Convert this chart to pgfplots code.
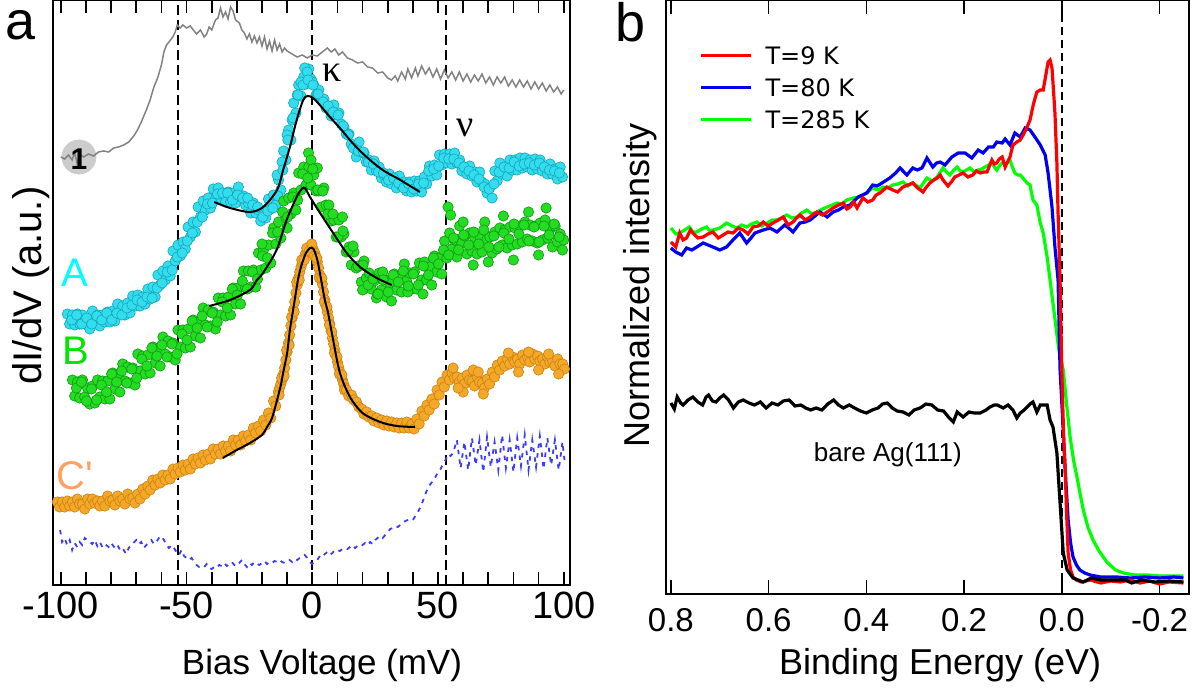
\documentclass[border=0pt]{standalone}
\usepackage{fontspec}
\setmainfont{Liberation Sans}
\newfontfamily\legfont{DejaVu Sans}
\newfontfamily\greekfont{Liberation Serif}
\usepackage{pgfplots}
\pgfplotsset{compat=1.18}

\definecolor{cyanfill}{RGB}{51,221,238}
\definecolor{cyanedge}{RGB}{20,165,185}
\definecolor{greenfill}{RGB}{34,221,34}
\definecolor{greenedge}{RGB}{20,150,20}
\definecolor{orangefill}{RGB}{245,168,40}
\definecolor{orangeedge}{RGB}{200,130,20}
\definecolor{labA}{RGB}{0,255,255}
\definecolor{labB}{RGB}{0,230,0}
\definecolor{labC}{RGB}{255,160,100}
\definecolor{tracegray}{RGB}{130,130,130}
\definecolor{dashblue}{RGB}{60,60,255}
\definecolor{arpesred}{RGB}{255,0,0}
\definecolor{arpesblue}{RGB}{0,0,240}
\definecolor{arpesgreen}{RGB}{0,255,0}

\pgfplotsset{
  dots/.style 2 args={only marks, mark=*, mark size=2.6pt,
    mark options={fill=#1, draw=#2, line width=0.3pt}},
  fit/.style={black, line width=1pt, smooth, no marks},
}

\begin{document}
\begin{tikzpicture}
\path[use as bounding box] (0,0) rectangle (602pt,348pt);

% ---------------- panel a ----------------
\begin{axis}[
  at={(26.65pt,55.5pt)}, anchor=south west,
  scale only axis, width=258.35pt, height=292.5pt,
  xmin=-103, xmax=102.5, ymin=15, ymax=600,
  clip=false, clip mode=individual,
  axis line style={line width=1pt},
  xtick={-100,-50,0,50,100},
  xticklabels={-100,-50,0,50,100},
  minor xtick={-90,-80,-70,-60,-40,-30,-20,-10,10,20,30,40,60,70,80,90},
  ytick=\empty,
  tick align=inside,
  major tick length=6.5pt, minor tick length=6.5pt,
  every tick/.style={black, line width=0.8pt},
  xticklabel style={font=\fontsize{19}{22}\selectfont},
  every axis x label/.style={at={(axis description cs:0.52,-0.137)}, anchor=center,
    font=\fontsize{17.5}{20}\selectfont},
  every axis y label/.style={at={(axis description cs:-0.043,0.512)}, anchor=center,
    rotate=90, font=\fontsize{20}{24}\selectfont},
  xlabel={Bias Voltage (mV)},
  ylabel={dI/dV (a.u.)},
]
% guide lines
\addplot[black, line width=0.85pt, dash pattern=on 5pt off 2.5pt] coordinates {(-53.5,15) (-53.5,600)};
\addplot[black, line width=0.85pt, dash pattern=on 5pt off 2.5pt] coordinates {(0,15) (0,600)};
\addplot[black, line width=0.85pt, dash pattern=on 5pt off 2.5pt] coordinates {(53.1,15) (53.1,600)};

% tip marker
\addplot[only marks, mark=*, mark size=8.5pt, mark options={fill=black!20, draw=black!20}] coordinates {(-92.8,443)};

% gray reference trace
\addplot[tracegray, line width=0.75pt] coordinates {
(-100,443) (-98.5,441) (-97,445) (-95.5,440) (-94.5,448) (-93.5,436) (-92.5,446) (-91,443) (-89,446) (-87,444)
(-85,448) (-83,449) (-81,448) (-79,452) (-77,453) (-75,455) (-73,458) (-71,464) (-69.5,470) (-68,478)
(-66,490) (-64.5,500) (-63,513) (-61.5,522) (-60,535) (-59,548) (-58,555) (-57,558) (-55.5,563) (-54.5,568)
(-53.7,575) (-52.5,572) (-51.5,575) (-50,572) (-48.5,574) (-47,569) (-46,566) (-44.5,570) (-43,563) (-42,566)
(-41,573) (-40,570) (-38.5,580) (-37.5,582) (-36.5,592) (-35.5,583) (-34.5,588) (-33.5,581) (-32.5,593) (-31.5,589)
(-30.5,580) (-29,577) (-28,570) (-27,567) (-26,561) (-25,566) (-24,558) (-23,564) (-22,557) (-21,563)
(-20,554) (-19,563) (-18,551) (-17,559) (-16,549) (-15,560) (-14,550) (-13,556) (-12,548) (-11,552)
(-10,549) (-8,546) (-6,543) (-4,545) (-2,542) (0,545) (2,544) (4,548) (6,552) (7.5,548)
(9,551) (10.5,545) (12,548) (14,542) (16,540) (18,537) (20,538) (22,533) (24,532) (26,527)
(28,528) (30,522) (31.5,520) (33,524) (34,519) (35.5,528) (37,521) (38,531) (39.5,522) (41,532)
(42,524) (43.5,534) (45,526) (46.5,532) (48,523) (49.5,531) (51,521) (52.5,530) (54,522) (55.5,528)
(57,520) (58.5,528) (60,519) (61.5,526) (63,518) (64.5,525) (66,519) (67.5,526) (69,517) (70.5,523)
(72,515) (73.5,523) (75,517) (76.5,523) (78,514) (79.5,520) (81,513) (82.5,520) (84,513) (85.5,519)
(87,511) (88.5,518) (90,511) (91.5,517) (93,509) (94.5,515) (96,508) (97.5,513) (99,506) (100,510)
};

% A (cyan)
\addplot[dots={cyanfill}{cyanedge}] coordinates {
(-97.4,286) (-96.5,276) (-95.4,285) (-94.5,275) (-93.4,286) (-92.5,276) (-91.4,285) (-90.5,276)
(-89.4,281) (-88.5,271) (-87.4,289) (-86.5,279) (-85.4,285) (-84.5,274) (-83.4,285) (-82.5,278)
(-81.4,288) (-80.5,278) (-79.4,289) (-78.5,279) (-77.4,296) (-76.5,286) (-75.4,294) (-74.5,285)
(-73.4,297) (-72.5,287) (-71.4,304) (-70.5,294) (-69.4,305) (-68.5,294) (-67.4,303) (-66.5,296)
(-65.4,311) (-64.5,301) (-63.4,313) (-62.5,303) (-61.4,325) (-60.5,315) (-59.4,329) (-58.5,320)
(-57.4,334) (-56.5,324) (-55.4,349) (-54.5,339) (-53.4,355) (-52.5,344) (-51.4,358) (-50.5,351)
(-49.4,373) (-48.5,363) (-47.4,378) (-46.5,368) (-45.4,393) (-44.5,383) (-43.4,399) (-42.5,390)
(-41.4,402) (-40.5,392) (-39.4,411) (-38.5,401) (-37.4,412) (-36.5,401) (-35.4,405) (-34.5,398)
(-33.4,408) (-32.5,398) (-31.4,407) (-30.5,397) (-29.4,413) (-28.5,403) (-27.4,404) (-26.5,395)
(-25.4,397) (-24.5,387) (-23.4,397) (-22.5,387) (-21.4,390) (-20.5,379) (-19.4,389) (-18.5,382)
(-17.4,401) (-16.5,391) (-15.4,405) (-14.5,395) (-13.4,420) (-12.5,410) (-11.4,449) (-10.5,440)
(-9.4,470) (-8.5,460) (-7.4,497) (-6.5,487) (-5.4,515) (-4.5,504) (-3.4,523) (-2.5,516)
(-1.4,531) (-0.5,521) (0.6,515) (1.5,505) (2.6,510) (3.5,500) (4.6,501) (5.5,492)
(6.6,494) (7.5,484) (8.6,495) (9.5,485) (10.6,487) (11.5,476) (12.6,473) (13.5,466)
(14.6,466) (15.5,456) (16.6,453) (17.5,443) (18.6,458) (19.5,448) (20.6,447) (21.5,438)
(22.6,440) (23.5,430) (24.6,439) (25.5,429) (26.6,433) (27.5,422) (28.6,425) (29.5,418)
(30.6,426) (31.5,416) (32.6,422) (33.5,412) (34.6,424) (35.5,414) (36.6,418) (37.5,409)
(38.6,418) (39.5,408) (40.6,419) (41.5,409) (42.6,419) (43.5,408) (44.6,423) (45.5,416)
(46.6,434) (47.5,424) (48.6,435) (49.5,425) (50.6,445) (51.5,435) (52.6,446) (53.5,437)
(54.6,446) (55.5,436) (56.6,447) (57.5,437) (58.6,440) (59.5,429) (60.6,433) (61.5,426)
(62.6,434) (63.5,424) (64.6,428) (65.5,418) (66.6,428) (67.5,418) (68.6,416) (69.5,407)
(70.6,412) (71.5,402) (72.6,429) (73.5,419) (74.6,437) (75.5,426) (76.6,431) (77.5,424)
(78.6,440) (79.5,430) (80.6,440) (81.5,430) (82.6,442) (83.5,432) (84.6,442) (85.5,433)
(86.6,440) (87.5,430) (88.6,441) (89.5,431) (90.6,440) (91.5,429) (92.6,433) (93.5,426)
(94.6,436) (95.5,426) (96.6,431) (97.5,421) (98.6,433) (99.5,423)
(-3,532) (-2,528) (-4.5,518) (-6,505) (-8,480) (-10,465) (-12,438) (-14,425) (0,518) (2,505)
(-95.7,280) (-93.7,285) (-91.7,276) (-89.7,282) (-87.7,276) (-85.7,284) (-83.7,280) (-81.7,287)
(-79.7,280) (-77.7,287) (-75.7,285) (-73.7,292) (-71.7,295) (-69.7,300) (-67.7,298) (-65.7,303)
(-63.7,302) (-61.7,312) (-59.7,317) (-57.7,328) (-55.7,330) (-53.7,343) (-51.7,347) (-49.7,359)
(-47.7,367) (-45.7,378) (-43.7,383) (-41.7,396) (-39.7,397) (-37.7,406) (-35.7,407) (-33.7,407)
(-31.7,400) (-29.7,405) (-27.7,402) (-25.7,402) (-23.7,395) (-21.7,393) (-19.7,383) (-17.7,389)
(-15.7,392) (-13.7,404) (-11.7,430) (-9.7,460) (-7.7,482) (-5.7,505) (-3.7,515) (-1.7,520)
(0.3,515) (2.3,506) (4.3,498) (6.3,494) (8.3,488) (10.3,485) (12.3,474) (14.3,465)
(16.3,452) (18.3,449) (20.3,448) (22.3,438) (24.3,436) (26.3,428) (28.3,427) (30.3,420)
(32.3,422) (34.3,417) (36.3,412) (38.3,416) (40.3,411) (42.3,416) (44.3,417) (46.3,429)
(48.3,431) (50.3,434) (52.3,442) (54.3,441) (56.3,441) (58.3,437) (60.3,433) (62.3,429)
(64.3,425) (66.3,421) (68.3,413) (70.3,411) (72.3,416) (74.3,428) (76.3,433) (78.3,432)
(80.3,438) (82.3,434) (84.3,436) (86.3,437) (88.3,435) (90.3,437) (92.3,433) (94.3,430)
(96.3,429) (98.3,427)
};
\addplot[fit] coordinates {
(-39,398) (-32.7,392) (-24.8,388) (-19.5,393) (-14,410) (-11.6,430) (-8.9,453) (-6.2,480)
(-3.6,500) (-1.8,504) (0.3,502) (3,495) (7,483) (11,472) (16,457) (21.6,443) (28,430) (35,420) (42.8,408)
};

% B (green)
\addplot[dots={greenfill}{greenedge}] coordinates {
(-95.4,220) (-94.5,204) (-93.4,218) (-92.5,202) (-91.4,220) (-90.5,203) (-89.4,212) (-88.5,196)
(-87.4,214) (-86.5,197) (-85.4,220) (-84.5,203) (-83.4,219) (-82.5,201) (-81.4,219) (-80.5,201)
(-79.4,227) (-78.5,211) (-77.4,224) (-76.5,208) (-75.4,236) (-74.5,219) (-73.4,233) (-72.5,217)
(-71.4,232) (-70.5,215) (-69.4,246) (-68.5,229) (-67.4,244) (-66.5,226) (-65.4,245) (-64.5,227)
(-63.4,253) (-62.5,237) (-61.4,250) (-60.5,234) (-59.4,263) (-58.5,246) (-57.4,259) (-56.5,243)
(-55.4,257) (-54.5,240) (-53.4,270) (-52.5,253) (-51.4,270) (-50.5,252) (-49.4,271) (-48.5,253)
(-47.4,280) (-46.5,264) (-45.4,278) (-44.5,262) (-43.4,292) (-42.5,275) (-41.4,290) (-40.5,274)
(-39.4,288) (-38.5,271) (-37.4,302) (-36.5,285) (-35.4,302) (-34.5,284) (-33.4,303) (-32.5,285)
(-31.4,312) (-30.5,296) (-29.4,312) (-28.5,296) (-27.4,329) (-26.5,312) (-25.4,329) (-24.5,313)
(-23.4,330) (-22.5,313) (-21.4,347) (-20.5,330) (-19.4,350) (-18.5,332) (-17.4,355) (-16.5,337)
(-15.4,372) (-14.5,356) (-13.4,378) (-12.5,362) (-11.4,399) (-10.5,382) (-9.4,402) (-8.5,386)
(-7.4,407) (-6.5,390) (-5.4,427) (-4.5,410) (-3.4,433) (-2.5,415) (-1.4,433) (-0.5,415)
(0.6,425) (1.5,409) (2.6,409) (3.5,393) (4.6,412) (5.5,395) (6.6,395) (7.5,379)
(8.6,380) (9.5,363) (10.6,380) (11.5,363) (12.6,366) (13.5,348) (14.6,353) (15.5,335)
(16.6,348) (17.5,332) (18.6,334) (19.5,318) (20.6,339) (21.5,322) (22.6,327) (23.5,311)
(24.6,319) (25.5,302) (26.6,327) (27.5,310) (28.6,321) (29.5,303) (30.6,317) (31.5,299)
(32.6,326) (33.5,310) (34.6,324) (35.5,308) (36.6,336) (37.5,319) (38.6,327) (39.5,311)
(40.6,328) (41.5,311) (42.6,337) (43.5,320) (44.6,338) (45.5,320) (46.6,333) (47.5,315)
(48.6,344) (49.5,328) (50.6,342) (51.5,326) (52.6,359) (53.5,342) (54.6,367) (55.5,351)
(56.6,360) (57.5,343) (58.6,374) (59.5,357) (60.6,364) (61.5,346) (62.6,367) (63.5,349)
(64.6,362) (65.5,346) (66.6,364) (67.5,348) (68.6,378) (69.5,361) (70.6,363) (71.5,347)
(72.6,368) (73.5,351) (74.6,372) (75.5,355) (76.6,370) (77.5,352) (78.6,373) (79.5,355)
(80.6,372) (81.5,356) (82.6,374) (83.5,358) (84.6,378) (85.5,361) (86.6,375) (87.5,359)
(88.6,374) (89.5,357) (90.6,377) (91.5,360) (92.6,380) (93.5,362) (94.6,371) (95.5,353)
(96.6,374) (97.5,358) (98.6,366) (99.5,350)
(-1.5,447) (-0.5,440) (2,432) (12,383) (20,310) (26,306) (38,308) (44,306) (54,393) (55,385)
(60,378) (64,335) (70,338) (76,384) (80,340) (86,388) (90,345) (93,392) (100,360) (-20,356)
(-10,372) (28,328)
(-93.8,212) (-91.8,218) (-89.8,199) (-87.8,211) (-85.8,200) (-83.8,215) (-81.8,208) (-79.8,226)
(-77.8,218) (-75.8,229) (-73.8,217) (-71.8,231) (-69.8,222) (-67.8,241) (-65.8,234) (-63.8,252)
(-61.8,244) (-59.8,255) (-57.8,243) (-55.8,256) (-53.8,246) (-51.8,266) (-49.8,260) (-47.8,279)
(-45.8,272) (-43.8,284) (-41.8,273) (-39.8,287) (-37.8,278) (-35.8,298) (-33.8,292) (-31.8,311)
(-29.8,305) (-27.8,319) (-25.8,311) (-23.8,328) (-21.8,321) (-19.8,344) (-17.8,342) (-15.8,367)
(-13.8,368) (-11.8,388) (-9.8,383) (-7.8,403) (-5.8,400) (-3.8,426) (-1.8,422) (0.2,431)
(2.2,410) (4.2,409) (6.2,386) (8.2,386) (10.2,363) (12.2,369) (14.2,349) (16.2,354)
(18.2,334) (20.2,335) (22.2,315) (24.2,321) (26.2,306) (28.2,320) (30.2,308) (32.2,325)
(34.2,318) (36.2,329) (38.2,314) (40.2,326) (42.2,315) (44.2,334) (46.2,325) (48.2,342)
(50.2,336) (52.2,350) (54.2,345) (56.2,362) (58.2,350) (60.2,365) (62.2,355) (64.2,368)
(66.2,356) (68.2,370) (70.2,353) (72.2,364) (74.2,353) (76.2,367) (78.2,361) (80.2,376)
(82.2,366) (84.2,375) (86.2,359) (88.2,373) (90.2,358) (92.2,374) (94.2,365) (96.2,376)
(98.2,363)
};
\addplot[fit] coordinates {
(-41,294) (-32.7,300) (-24.8,310) (-22,320) (-19.6,327) (-14.2,350) (-10.2,380) (-6.2,403)
(-4.2,411) (-2.9,412) (-0.9,403) (3.1,387) (8.3,367) (13.7,347) (19,333) (25.6,322) (31.6,315)
};

% C' (orange)
\addplot[dots={orangefill}{orangeedge}] coordinates {
(-101.4,98) (-100.5,93) (-99.4,98) (-98.5,93) (-97.4,99) (-96.5,94) (-95.4,98) (-94.5,93)
(-93.4,101) (-92.5,96) (-91.4,96) (-90.5,91) (-89.4,101) (-88.5,96) (-87.4,101) (-86.5,97)
(-85.4,99) (-84.5,94) (-83.4,99) (-82.5,94) (-81.4,104) (-80.5,99) (-79.4,100) (-78.5,95)
(-77.4,104) (-76.5,99) (-75.4,101) (-74.5,96) (-73.4,106) (-72.5,101) (-71.4,102) (-70.5,97)
(-69.4,106) (-68.5,101) (-67.4,111) (-66.5,106) (-65.4,114) (-64.5,110) (-63.4,120) (-62.5,115)
(-61.4,121) (-60.5,117) (-59.4,125) (-58.5,120) (-57.4,125) (-56.5,121) (-55.4,131) (-54.5,126)
(-53.4,132) (-52.5,128) (-51.4,135) (-50.5,130) (-49.4,136) (-48.5,131) (-47.4,141) (-46.5,136)
(-45.4,142) (-44.5,137) (-43.4,145) (-42.5,140) (-41.4,146) (-40.5,141) (-39.4,151) (-38.5,146)
(-37.4,151) (-36.5,146) (-35.4,154) (-34.5,149) (-33.4,154) (-32.5,149) (-31.4,160) (-30.5,155)
(-29.4,160) (-28.5,155) (-27.4,164) (-26.5,159) (-25.4,165) (-24.5,160) (-23.4,172) (-22.5,167)
(-21.4,174) (-20.5,169) (-19.4,180) (-18.5,175) (-17.4,187) (-16.5,182) (-15.4,199) (-14.5,194)
(-13.5,208) (-13,212) (-12.5,216) (-12,220) (-11.5,226) (-11,232) (-10.5,240) (-10,248)
(-9.5,257) (-9,265) (-8.5,274) (-8,282) (-7.5,290) (-7,298) (-6.5,307) (-6,315)
(-5.5,322) (-5,328) (-4.5,333) (-4,337) (-3.5,341) (-3,344) (-2.5,347) (-2,349)
(-1.5,351) (-1,352) (-0.5,353) (0,352) (0.5,350) (1,347) (1.5,343) (2,338)
(2.5,332) (3,325) (3.5,321) (4,316) (4.5,308) (5,300) (5.5,294) (6,288)
(6.5,282) (7,276) (7.5,269) (8,262) (8.5,256) (9,250) (9.5,244) (10,238)
(10.5,233) (11,228) (11.5,224) (12,220) (12.5,216) (13,212)
(-13.2,205) (-12.2,222) (-11.2,224) (-10.2,250) (-9.2,255) (-8.2,283) (-7.2,288) (-6.2,318)
(-5.2,320) (-4.2,340) (-3.2,340) (-2.2,352) (-1.2,349) (-0.2,356) (0.8,344) (1.8,342)
(2.8,322) (3.8,322) (4.8,298) (5.8,293) (6.8,275) (7.8,268) (8.8,247) (9.8,243)
(10.8,226) (11.8,225) (12.8,210)
(13.6,210) (14.5,204) (15.6,205) (16.5,200) (17.6,198) (18.5,193) (19.6,191) (20.5,186)
(21.6,188) (22.5,183) (23.6,184) (24.5,179) (25.6,182) (26.5,177) (27.6,180) (28.5,175)
(29.6,179) (30.5,174) (31.6,178) (32.5,173) (33.6,177) (34.5,172) (35.6,177) (36.5,172)
(37.6,178) (38.5,172) (39.6,176) (40.5,171) (41.6,181) (42.5,176) (43.6,189) (44.5,184)
(45.6,195) (46.5,190) (47.6,201) (48.5,196) (49.6,210) (50.5,205) (51.6,218) (52.5,213)
(53.6,225) (54.5,220) (55.6,227) (56.5,222) (57.6,223) (58.5,218) (59.6,222) (60.5,216)
(61.6,225) (62.5,220) (63.6,219) (64.5,214) (65.6,223) (66.5,218) (67.6,217) (68.5,212)
(69.6,221) (70.5,216) (71.6,228) (72.5,223) (73.6,235) (74.5,230) (75.6,239) (76.5,234)
(77.6,241) (78.5,236) (79.6,243) (80.5,238) (81.6,241) (82.5,236) (83.6,245) (84.5,240)
(85.6,243) (86.5,238) (87.6,246) (88.5,241) (89.6,244) (90.5,239) (91.6,241) (92.5,236)
(93.6,243) (94.5,238) (95.6,239) (96.5,234) (97.6,241) (98.5,236) (99.6,236) (100.3,231)
(56,232) (60,208) (64,230) (68,206) (58,212) (66,228)
(78,247) (82,228) (86,248) (90,230) (94,246) (98,226)
};
\addplot[fit] coordinates {
(-35.6,142) (-30,150) (-24.8,157) (-20,165) (-18,173) (-16,182) (-14,200) (-12.5,215)
(-11.6,227) (-10,247) (-8.9,270) (-7.5,292) (-5.7,320) (-4.5,333) (-3.6,340) (-2.5,347)
(-0.9,352) (0.5,351) (2,340) (3.4,322) (5,300) (6.3,287) (8.3,260) (11,227) (15,203)
(20,187) (27,178) (33.6,174) (40.8,173)
};

% reference (blue dashed)
\addplot[dashblue, line width=0.9pt, dash pattern=on 2.2pt off 2.6pt] coordinates {
(-100.3,70) (-99.5,58) (-98.5,62) (-97.5,55) (-96.5,60) (-95.5,50) (-94.5,57) (-93.5,53) (-92.5,58) (-91.5,55)
(-90.5,62) (-89.5,60) (-88.5,58) (-87.5,56) (-86.5,60) (-85.5,54) (-84.5,58) (-83.5,53) (-82.5,56) (-81,53)
(-80,57) (-78.5,52) (-77.5,55) (-76,48) (-75,50) (-74,46) (-73,52) (-71.5,56) (-70,60) (-69,56)
(-68,58) (-67,52) (-66,55) (-65,58) (-64,60) (-63,56) (-62,58) (-61,62) (-60,64) (-59,60)
(-58,55) (-57,52) (-56,55) (-55,52) (-54,48) (-53,45) (-52,50) (-51,44) (-50,42) (-49,40)
(-48,42) (-47,38) (-46,35) (-45,33) (-44,34) (-43,33) (-42,36) (-41,32) (-40,31) (-39,33)
(-38,32) (-37,35) (-36,34) (-35,37) (-34,34) (-33,36) (-32,38) (-31,35) (-30,34) (-29,37)
(-28,40) (-27,36) (-26,33) (-25,37) (-24,35) (-23,38) (-22,36) (-21,35) (-20,37) (-19,39)
(-18,36) (-17,38) (-16,37) (-15,39) (-14,38) (-13,40) (-12,38) (-11,37) (-10,39) (-9,40)
(-8,38) (-7,41) (-6,40) (-5,42) (-4,43) (-3,45) (-2,42) (-1,38) (0,36) (1,38)
(2,40) (3,44) (4,43) (5,46) (6,48) (7,45) (8,47) (9,50) (10,50) (11,49)
(12,51) (13,52) (14,51) (15,53) (16,55) (17,52) (18,54) (19,53) (20,55) (21,57)
(22,55) (23,58) (24,56) (25,60) (26,62) (27,64) (28,62) (29,65) (30,68) (31,71)
(32,72) (33,74) (34,73) (35,75) (36,77) (37,79) (38,80) (39,81) (40,80) (41,84)
(42,88) (43,93) (44,99) (45,106) (46,112) (47,116) (48,119) (49,123) (50,128) (51,131)
(52,136) (53,140) (54,146) (55,144) (56,147) (57.5,160) (59,132) (60.5,158) (62,130) (63.5,162)
(65,135) (66.5,160) (68,128) (69.5,163) (71,133) (72.5,158) (74,130) (75.5,165) (77,132) (78.5,160)
(80,128) (81.5,162) (83,134) (84.5,165) (86,130) (87.5,160) (89,133) (90.5,164) (92,131) (93.5,162)
(95,135) (96.5,160) (98,130) (99.5,158) (100.3,140)
};

\node[font=\bfseries\fontsize{15}{17}\selectfont] at (axis cs:-92.8,441) {1};
\node[anchor=west, inner sep=0pt, text=labA, font=\fontsize{20}{24}\selectfont] at (axis cs:-99.8,327.5) {A};
\node[anchor=west, inner sep=0pt, text=labB, font=\fontsize{20}{24}\selectfont] at (axis cs:-99.4,249) {B};
\node[anchor=west, inner sep=0pt, text=labC, font=\fontsize{20}{24}\selectfont] at (axis cs:-101.8,124) {C\textquotesingle};
\node[font=\greekfont\fontsize{19}{22}\selectfont] at (axis cs:7.7,527) {κ};
\node[font=\greekfont\fontsize{19}{22}\selectfont] at (axis cs:60.7,472) {ν};
\end{axis}

% ---------------- panel b ----------------
\begin{axis}[
  at={(333pt,51pt)}, anchor=south west,
  scale only axis, width=261.65pt, height=297pt,
  xmin=-0.261, xmax=0.810, ymin=6, ymax=600,
  x dir=reverse,
  clip=false,
  axis line style={line width=1pt},
  xtick={-0.2,0,0.2,0.4,0.6,0.8},
  xticklabels={-0.2,0.0,0.2,0.4,0.6,0.8},
  ytick=\empty,
  tick align=inside,
  major tick length=7pt,
  every tick/.style={black, line width=0.8pt},
  xticklabel style={font=\fontsize{16.5}{19}\selectfont, yshift=-3.5pt},
  every axis x label/.style={at={(axis description cs:0.524,-0.12)}, anchor=center,
    font=\fontsize{18}{21}\selectfont},
  every axis y label/.style={at={(axis description cs:-0.05,0.52)}, anchor=center,
    rotate=90, font=\fontsize{18}{21}\selectfont},
  xlabel={Binding Energy (eV)},
  ylabel={Normalized intensity},
  reverse legend,
  legend cell align=left,
  legend style={at={(axis description cs:0.063,0.934)}, anchor=north west,
    draw=none, fill=none, inner sep=0pt, row sep=0pt, column sep=6.5pt,
    font=\legfont\fontsize{12}{14}\selectfont,
    nodes={inner sep=0pt, text height=12.4pt, text depth=3.6pt}},
  legend image code/.code={\draw[#1, line width=1.6pt] (0pt,0pt) -- (25pt,0pt);},
]
\addplot[black, line width=1.1pt, dash pattern=on 4pt off 2.5pt, forget plot] coordinates {(0,6) (0,600)};

\addplot[arpesgreen, line width=1.6pt] coordinates {
(0.800,372) (0.790,366) (0.782,367) (0.772,370) (0.762,373) (0.755,368) (0.747,368) (0.737,371)
(0.727,373) (0.720,369) (0.714,370) (0.700,372) (0.686,377) (0.675,374) (0.665,372) (0.655,375)
(0.645,373) (0.635,376) (0.624,378) (0.614,374) (0.603,377) (0.593,380) (0.583,380) (0.573,382)
(0.563,385) (0.552,382) (0.542,383) (0.532,387) (0.522,390) (0.511,386) (0.501,388) (0.490,391)
(0.480,393) (0.470,395) (0.460,397) (0.450,396) (0.440,400) (0.427,402) (0.413,403) (0.400,407)
(0.387,412) (0.376,410) (0.366,413) (0.356,412) (0.346,415) (0.336,416) (0.325,418) (0.315,414)
(0.305,417) (0.290,412) (0.276,422) (0.265,419) (0.255,423) (0.243,432) (0.236,428) (0.229,425)
(0.221,430) (0.214,433) (0.208,429) (0.202,428) (0.195,430) (0.188,432) (0.179,428) (0.171,430)
(0.164,431) (0.157,433) (0.150,435) (0.143,437) (0.138,433) (0.133,430) (0.128,434) (0.122,437)
(0.117,436) (0.112,437) (0.106,440) (0.101,433) (0.096,427) (0.090,425) (0.085,425) (0.078,421)
(0.071,417) (0.065,415) (0.059,400) (0.051,395) (0.044,377) (0.038,367) (0.030,343) (0.024,320)
(0.015,285) (0.006,250) (-0.003,230) (-0.010,195) (-0.017,163) (-0.024,140) (-0.031,123) (-0.038,105)
(-0.044,90) (-0.054,72) (-0.064,60) (-0.075,50) (-0.085,43) (-0.092,38) (-0.099,35) (-0.110,30)
(-0.126,27) (-0.150,25) (-0.175,25) (-0.200,24) (-0.230,24) (-0.249,24)
};
\addlegendentry{T=285 K}

\addplot[arpesblue, line width=1.6pt] coordinates {
(0.800,352) (0.790,348) (0.778,345) (0.768,352) (0.757,350) (0.747,353) (0.734,357) (0.724,355)
(0.714,353) (0.700,350) (0.686,353) (0.673,360) (0.659,367) (0.645,357) (0.636,362) (0.628,367)
(0.611,370) (0.597,372) (0.583,368) (0.567,375) (0.559,372) (0.550,368) (0.536,377) (0.525,378)
(0.515,380) (0.505,384) (0.495,388) (0.480,383) (0.468,388) (0.457,390) (0.447,393) (0.433,395)
(0.417,403) (0.399,407) (0.387,415) (0.378,414) (0.368,417) (0.352,422) (0.340,427) (0.331,432)
(0.317,425) (0.305,432) (0.296,430) (0.286,432) (0.276,442) (0.264,433) (0.256,437) (0.249,438)
(0.239,435) (0.225,443) (0.212,447) (0.198,447) (0.184,442) (0.171,450) (0.161,447) (0.150,453)
(0.140,453) (0.133,458) (0.122,457) (0.116,461) (0.106,455) (0.096,467) (0.085,463) (0.075,472)
(0.065,470) (0.055,463) (0.044,455) (0.034,445) (0.028,427) (0.020,393) (0.014,353) (0.0076,320)
(0.0035,230) (-0.003,170) (-0.007,130) (-0.013,80) (-0.018,57) (-0.023,43) (-0.030,35) (-0.037,30)
(-0.047,27) (-0.058,25) (-0.080,23) (-0.113,23) (-0.140,22) (-0.170,23) (-0.200,22) (-0.230,23)
(-0.249,22)
};
\addlegendentry{T=80 K}

\addplot[arpesred, line width=1.6pt] coordinates {
(0.800,358) (0.790,353) (0.782,367) (0.775,360) (0.768,362) (0.760,370) (0.755,367) (0.745,362)
(0.734,363) (0.724,366) (0.714,368) (0.703,362) (0.693,365) (0.683,368) (0.673,367) (0.662,372)
(0.652,370) (0.642,366) (0.632,373) (0.621,374) (0.611,378) (0.601,374) (0.591,377) (0.580,380)
(0.570,383) (0.560,375) (0.550,378) (0.543,382) (0.536,385) (0.525,380) (0.515,383) (0.508,386)
(0.501,388) (0.490,385) (0.480,388) (0.474,390) (0.468,392) (0.457,395) (0.447,397) (0.440,391)
(0.433,393) (0.426,398) (0.419,392) (0.407,402) (0.397,398) (0.387,400) (0.380,405) (0.372,407)
(0.365,410) (0.358,413) (0.346,410) (0.336,408) (0.325,413) (0.315,415) (0.305,417) (0.295,412)
(0.284,408) (0.277,413) (0.270,417) (0.262,420) (0.255,422) (0.249,425) (0.243,420) (0.233,414)
(0.226,418) (0.219,423) (0.210,425) (0.202,427) (0.192,423) (0.182,425) (0.175,429) (0.167,427)
(0.160,428) (0.153,428) (0.143,440) (0.138,436) (0.133,437) (0.128,441) (0.122,443) (0.116,433)
(0.111,438) (0.106,443) (0.100,455) (0.092,458) (0.085,460) (0.078,466) (0.071,473) (0.065,480)
(0.058,496) (0.051,508) (0.044,510) (0.038,510) (0.033,524) (0.028,538) (0.024,540) (0.020,532)
(0.017,510) (0.014,487) (0.010,437) (0.0076,387) (0.0035,320) (0.0,230) (-0.004,160) (-0.007,130)
(-0.010,85) (-0.013,47) (-0.018,30) (-0.023,23) (-0.030,20) (-0.040,18) (-0.058,20) (-0.080,17)
(-0.100,19) (-0.120,18) (-0.140,20) (-0.160,17) (-0.180,19) (-0.200,16) (-0.220,18) (-0.249,17)
};
\addlegendentry{T=9 K}

\addplot[black, line width=1.6pt, forget plot] coordinates {
(0.800,197) (0.793,191) (0.787,203) (0.780,197) (0.775,195) (0.765,200) (0.755,203) (0.745,198)
(0.735,195) (0.728,203) (0.723,205) (0.715,199) (0.708,198) (0.700,202) (0.692,205) (0.682,200)
(0.672,192) (0.662,198) (0.652,200) (0.640,197) (0.629,195) (0.617,198) (0.605,192) (0.593,197)
(0.581,195) (0.570,199) (0.558,200) (0.546,194) (0.534,195) (0.524,192) (0.514,190) (0.503,192)
(0.491,190) (0.479,196) (0.467,200) (0.457,195) (0.447,192) (0.435,195) (0.424,192) (0.412,189)
(0.400,187) (0.388,190) (0.376,192) (0.367,196) (0.357,197) (0.347,192) (0.337,189) (0.325,188)
(0.313,185) (0.302,190) (0.290,192) (0.278,196) (0.266,195) (0.254,190) (0.242,189) (0.232,183)
(0.222,178) (0.214,188) (0.202,183) (0.190,188) (0.179,187) (0.167,187) (0.155,190) (0.147,193)
(0.138,195) (0.132,195) (0.120,192) (0.110,195) (0.100,190) (0.092,182) (0.085,187) (0.077,190)
(0.071,193) (0.065,196) (0.059,198) (0.051,188) (0.044,195) (0.037,195) (0.030,195) (0.024,180)
(0.018,173) (0.010,147) (0.0035,97) (-0.003,47) (-0.011,30) (-0.023,22) (-0.044,18) (-0.060,22)
(-0.080,20) (-0.100,20) (-0.130,20) (-0.143,17) (-0.163,20) (-0.190,18) (-0.220,19) (-0.249,18)
};

\node[font=\fontsize{13}{15}\selectfont] at (axis cs:0.356,145) {bare Ag(111)};
\end{axis}

% panel letters
\node[anchor=base, font=\fontsize{27}{30}\selectfont] at (10.5pt,328pt) {a};
\node[anchor=base, font=\fontsize{27}{30}\selectfont] at (315.5pt,327pt) {b};
\end{tikzpicture}
\end{document}
